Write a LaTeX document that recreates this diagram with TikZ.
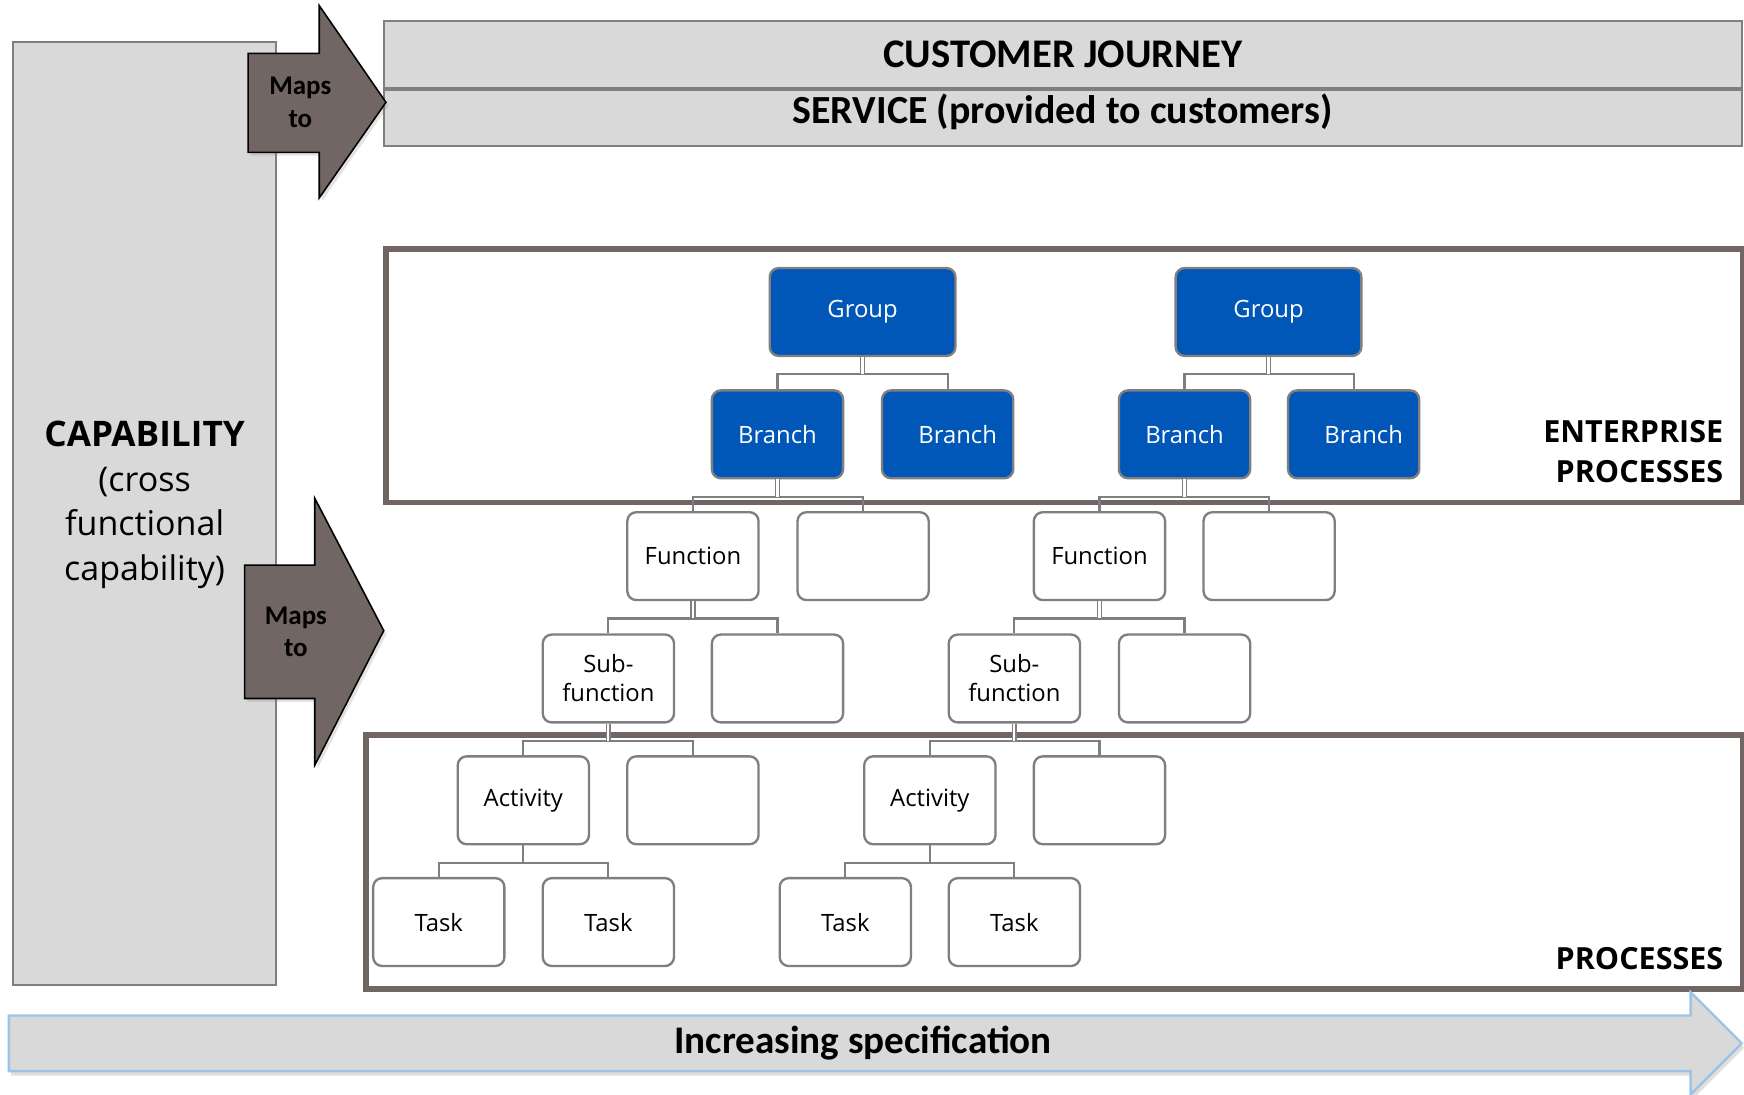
\documentclass[tikz,border=0pt]{standalone}
\usepackage{fontspec}
\setmainfont{Open Sans}
\newfontfamily\headfont{Carlito}
\usetikzlibrary{shadows, positioning}
\definecolor{panelgrey}{HTML}{D9D9D9}
\definecolor{edgegrey}{HTML}{7F7F7F}
\definecolor{framebrown}{HTML}{716664}
\definecolor{groupblue}{HTML}{0057B8}
\definecolor{arrowblue}{HTML}{9DC3E6}
\tikzset{orgbox/.style={draw=edgegrey, line width=0.6pt, rounded corners=2.3pt, fill=white, minimum width=1.18cm, minimum height=0.79cm, inner sep=1pt, align=center, font=\fontsize{6.1}{7.4}\selectfont}}
\tikzset{orgboxb/.style={orgbox, fill=groupblue, text=white}}
\tikzset{edge/.style={draw=edgegrey, line width=0.55pt}}
\tikzset{stem/.style={draw=edgegrey, line width=0.45pt, double=white, double distance=0.55pt}}
\tikzset{frame/.style={draw=framebrown, line width=1.4pt}}
\tikzset{mapsarrow/.style={fill=framebrown, drop shadow={opacity=0.22, shadow xshift=0.025cm, shadow yshift=-0.03cm}}}
\tikzset{mapstext/.style={align=center, font=\headfont\bfseries\fontsize{6.9}{8.3}\selectfont}}

\begin{document}
\begin{tikzpicture}
            \useasboundingbox (0,0) rectangle (15.68,-9.84);

            % capability column
            \draw [draw=edgegrey, line width=0.5pt, fill=panelgrey] (0.12,-0.38) rectangle (2.48,-8.86);
            \node [align=center, font=\fontsize{8.7}{11.4}\selectfont] (Cap) at (1.30,-4.54)
                {{\bfseries\fontsize{9}{11.4}\selectfont CAPABILITY}\\(cross\\functional\\capability)};

            % customer journey and service
            \node [draw=edgegrey, line width=0.6pt, fill=panelgrey, minimum width=12.21cm, minimum height=0.60cm, inner sep=0pt, font=\headfont\bfseries\fontsize{10.4}{12}\selectfont] (Journey) at (9.555,-0.49) {CUSTOMER JOURNEY};
            \node [draw=edgegrey, line width=0.6pt, fill=panelgrey, minimum width=12.21cm, minimum height=0.50cm, inner sep=0pt, text depth=0.17cm, font=\headfont\bfseries\fontsize{10.2}{12}\selectfont, below=0pt of Journey] (Service) {SERVICE (provided to customers)};

            % maps to arrows
            \draw [mapsarrow] (2.23,-0.48) -- (2.87,-0.48) -- (2.87,-0.05) -- (3.47,-0.92)
                -- (2.87,-1.78) -- (2.87,-1.37) -- (2.23,-1.37) -- cycle;
            \node [mapstext] (MapsA) at (2.70,-0.92) {Maps\\to};
            \draw [mapsarrow] (2.20,-5.08) -- (2.83,-5.08) -- (2.83,-4.48) -- (3.45,-5.67)
                -- (2.83,-6.88) -- (2.83,-6.28) -- (2.20,-6.28) -- cycle;
            \node [mapstext] (MapsB) at (2.66,-5.68) {Maps\\to};

            % frames
            \draw [frame] (3.47,-2.24) rectangle (15.67,-4.52);
            \draw [frame] (3.29,-6.61) rectangle (15.67,-8.89);
            \node [anchor=east, align=right, inner sep=0pt, font=\bfseries\fontsize{7.8}{10}\selectfont] (Enterprise) at (15.50,-4.06) {ENTERPRISE\\PROCESSES};
            \node [anchor=east, inner sep=0pt, font=\bfseries\fontsize{7.8}{10}\selectfont] (Processes) at (15.50,-8.62) {PROCESSES};

            % increasing specification
            \draw [draw=arrowblue, line width=0.6pt, fill=panelgrey, drop shadow={opacity=0.25, shadow xshift=0.02cm, shadow yshift=-0.04cm}]
                (0.08,-9.13) -- (15.20,-9.13) -- (15.20,-8.92) -- (15.66,-9.38)
                -- (15.20,-9.84) -- (15.20,-9.63) -- (0.08,-9.63) -- cycle;
            \node [font=\headfont\bfseries\fontsize{10}{12}\selectfont] (Spec) at (7.76,-9.38) {Increasing specification};

            % tree
            \node [orgboxb, minimum width=1.67cm] (G1) at (7.755,-2.805) {Group};
            \node [orgboxb, minimum width=1.67cm] (G2) at (11.405,-2.805) {Group};

            \node [orgboxb] (B1) at (6.99,-3.905) {Branch};
            \node [orgboxb] (B2) at (8.52,-3.905) {\hspace{0.18cm}Branch};
            \node [orgboxb] (B3) at (10.65,-3.905) {Branch};
            \node [orgboxb] (B4) at (12.17,-3.905) {\hspace{0.18cm}Branch};

            \node [orgbox] (F1) at (6.23,-5.00) {Function};
            \node [orgbox] (F1e) at (7.76,-5.00) {};
            \node [orgbox] (F2) at (9.885,-5.00) {Function};
            \node [orgbox] (F2e) at (11.41,-5.00) {};

            \node [orgbox] (S1) at (5.47,-6.10) {Sub-\\function};
            \node [orgbox] (S1e) at (6.99,-6.10) {};
            \node [orgbox] (S2) at (9.12,-6.10) {Sub-\\function};
            \node [orgbox] (S2e) at (10.65,-6.10) {};

            \node [orgbox] (A1) at (4.705,-7.195) {Activity};
            \node [orgbox] (A1e) at (6.23,-7.195) {};
            \node [orgbox] (A2) at (8.36,-7.195) {Activity};
            \node [orgbox] (A2e) at (9.885,-7.195) {};

            \node [orgbox] (T1) at (3.945,-8.29) {Task};
            \node [orgbox] (T2) at (5.47,-8.29) {Task};
            \node [orgbox] (T3) at (7.60,-8.29) {Task};
            \node [orgbox] (T4) at (9.12,-8.29) {Task};

            \draw [edge] (G1.south) ++(0,-0.155) -| (B1.north);
            \draw [edge] (G1.south) ++(0,-0.155) -| (B2.north);
            \draw [edge] (G2.south) ++(0,-0.155) -| (B3.north);
            \draw [edge] (G2.south) ++(0,-0.155) -| (B4.north);
            \draw [edge] (B1.south) ++(0,-0.155) -| (F1.north);
            \draw [edge] (B1.south) ++(0,-0.155) -| (F1e.north);
            \draw [edge] (B3.south) ++(0,-0.155) -| (F2.north);
            \draw [edge] (B3.south) ++(0,-0.155) -| (F2e.north);
            \draw [edge] (F1.south) ++(0,-0.155) -| (S1.north);
            \draw [edge] (F1.south) ++(0,-0.155) -| (S1e.north);
            \draw [edge] (F2.south) ++(0,-0.155) -| (S2.north);
            \draw [edge] (F2.south) ++(0,-0.155) -| (S2e.north);
            \draw [edge] (S1.south) ++(0,-0.155) -| (A1.north);
            \draw [edge] (S1.south) ++(0,-0.155) -| (A1e.north);
            \draw [edge] (S2.south) ++(0,-0.155) -| (A2.north);
            \draw [edge] (S2.south) ++(0,-0.155) -| (A2e.north);
            \draw [edge] (A1.south) -- ++(0,-0.155) -| (T1.north);
            \draw [edge] (A1.south) ++(0,-0.155) -| (T2.north);
            \draw [edge] (A2.south) -- ++(0,-0.155) -| (T3.north);
            \draw [edge] (A2.south) ++(0,-0.155) -| (T4.north);

            \draw [stem] (G1.south) -- ++(0,-0.155);
            \draw [stem] (G2.south) -- ++(0,-0.155);
            \draw [stem] (B1.south) -- ++(0,-0.155);
            \draw [stem] (B3.south) -- ++(0,-0.155);
            \draw [stem] (F1.south) -- ++(0,-0.155);
            \draw [stem] (F2.south) -- ++(0,-0.155);
            \draw [stem] (S1.south) -- ++(0,-0.155);
            \draw [stem] (S2.south) -- ++(0,-0.155);
        \end{tikzpicture}
\end{document}
